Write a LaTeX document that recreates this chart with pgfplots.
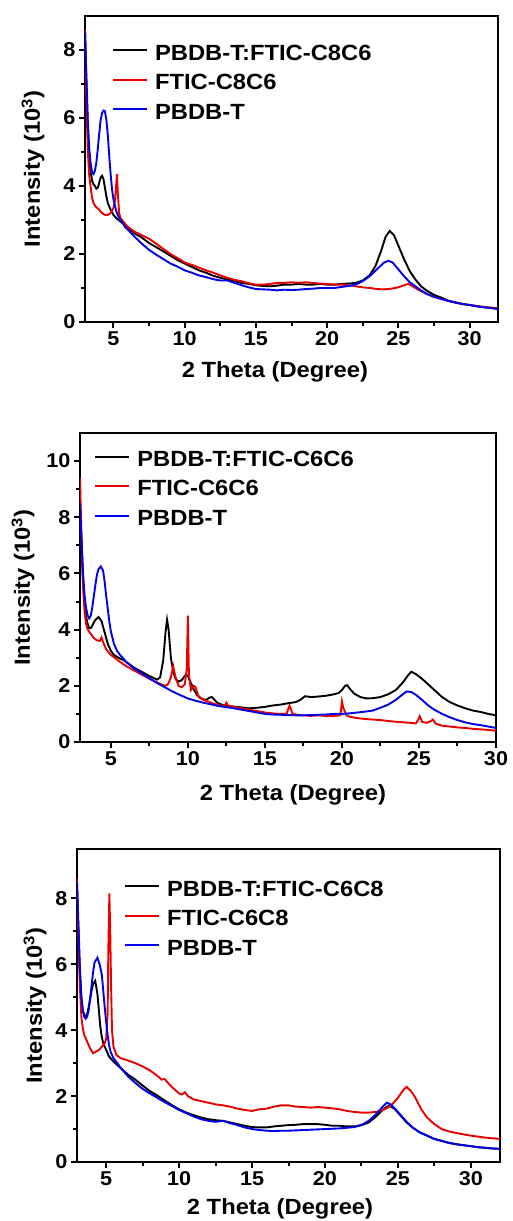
\documentclass[border=0pt]{standalone}
\usepackage{fontspec}
\setmainfont{Liberation Sans}[FakeStretch=1.08]
\usepackage{pgfplots}
\pgfplotsset{compat=1.18}
\definecolor{xred}{RGB}{235,0,0}
\definecolor{xblue}{RGB}{0,0,235}
\pgfplotsset{
  xrdstyle/.style={
    scale only axis,
    axis line style={line width=2.4pt},
    every tick/.style={line width=2pt,black},
    tick align=outside,
    xtick pos=bottom, ytick pos=left,
    major tick length=6pt, minor tick length=4pt,
    minor x tick num=1, minor y tick num=1,
    xtick={5,10,15,20,25,30},
    /pgf/number format/assume math mode=true,
    tick label style={font=\fontsize{20}{24}\selectfont\bfseries},
    label style={font=\fontsize{22}{26}\selectfont\bfseries},
    xlabel={2 Theta (Degree)},
    ylabel={Intensity (10\textsuperscript{3})},
    legend style={draw=none, fill=none, inner sep=0pt, row sep=0pt,
      font=\fontsize{22}{26}\selectfont\bfseries,
      nodes={inner sep=0pt, text height=21pt, text depth=8.5pt},
      /tikz/every odd column/.append style={column sep=7pt}},
    legend cell align=left,
    legend image code/.code={\draw[#1,line width=2pt] (0pt,3.5pt) -- (34pt,3.5pt);},
    blk/.style={black, line width=1.9pt},
    rd/.style={xred, line width=1.9pt},
    bl/.style={xblue, line width=1.9pt},
  }
}
\begin{document}
\begin{tikzpicture}[x=1pt,y=1pt]
\path[use as bounding box] (0,0) rectangle (512,-1221);
% ---------------- Panel 1 ----------------
\begin{axis}[xrdstyle,
  at={(85pt,-16pt)}, anchor=north west,
  width=413pt, height=306pt,
  xmin=3, xmax=32, ymin=0, ymax=9,
  ytick={0,2,4,6,8},
  xlabel style={at={(axis description cs:0.46,-0.18)}, anchor=base},
  ylabel style={at={(axis description cs:-0.126,0.5)}, anchor=center},
  legend style={at={(axis description cs:0.065,0.925)}, anchor=north west},
]
\addplot[blk] coordinates {
(3.0,8.6)(3.1,7.0)(3.2,5.6)(3.3,4.8)(3.4,4.4)(3.5,4.15)(3.6,4.05)(3.7,4.0)(3.8,3.92)(3.9,3.95)(4.0,4.1)(4.1,4.25)(4.2,4.3)(4.3,4.2)(4.4,3.95)(4.5,3.7)(4.6,3.5)(4.8,3.3)(5.0,3.15)(5.2,3.05)(5.5,2.95)(5.8,2.85)(6.0,2.78)(6.5,2.6)(7.0,2.48)(7.5,2.32)(8.0,2.2)(8.5,2.08)(9.0,1.95)(9.5,1.82)(10.0,1.72)(10.5,1.62)(11.0,1.52)(11.5,1.45)(12.0,1.36)(12.5,1.3)(13.0,1.25)(13.5,1.2)(14.0,1.15)(14.5,1.12)(15.0,1.08)(15.5,1.06)(16.0,1.05)(16.5,1.07)(17.0,1.1)(17.5,1.1)(18.0,1.12)(18.5,1.1)(19.0,1.1)(19.5,1.12)(20.0,1.1)(20.5,1.1)(21.0,1.12)(21.5,1.13)(22.0,1.15)(22.5,1.22)(23.0,1.38)(23.4,1.65)(23.8,2.1)(24.1,2.5)(24.4,2.68)(24.7,2.55)(25.0,2.25)(25.4,1.85)(25.8,1.5)(26.2,1.25)(26.6,1.05)(27.0,0.92)(27.5,0.8)(28.0,0.72)(28.5,0.63)(29.0,0.58)(29.5,0.53)(30.0,0.5)(30.5,0.47)(31.0,0.44)(31.5,0.42)(32.0,0.4)
};
\addlegendentry{PBDB-T:FTIC-C8C6}
\addplot[rd] coordinates {
(3.0,8.6)(3.1,6.5)(3.2,5.0)(3.3,4.3)(3.4,3.95)(3.5,3.65)(3.6,3.5)(3.7,3.42)(3.8,3.38)(4.0,3.3)(4.2,3.2)(4.4,3.15)(4.6,3.15)(4.8,3.2)(5.0,3.35)(5.1,3.55)(5.2,4.1)(5.25,4.35)(5.3,3.8)(5.4,3.2)(5.5,3.05)(5.7,2.95)(6.0,2.8)(6.5,2.65)(7.0,2.55)(7.5,2.45)(8.0,2.3)(8.5,2.15)(9.0,2.0)(9.5,1.88)(10.0,1.75)(10.5,1.68)(11.0,1.6)(11.5,1.52)(12.0,1.45)(12.5,1.37)(13.0,1.3)(13.5,1.24)(14.0,1.2)(14.5,1.14)(15.0,1.1)(15.5,1.1)(16.0,1.12)(16.5,1.15)(17.0,1.15)(17.5,1.17)(18.0,1.15)(18.5,1.17)(19.0,1.15)(19.5,1.13)(20.0,1.12)(20.5,1.1)(21.0,1.1)(21.5,1.08)(22.0,1.05)(22.5,1.02)(23.0,1.0)(23.5,0.97)(24.0,0.96)(24.5,0.98)(25.0,1.02)(25.4,1.08)(25.7,1.12)(26.0,1.05)(26.4,0.95)(27.0,0.82)(27.5,0.74)(28.0,0.68)(28.5,0.62)(29.0,0.57)(29.5,0.53)(30.0,0.5)(30.5,0.47)(31.0,0.44)(31.5,0.42)(32.0,0.4)
};
\addlegendentry{FTIC-C8C6}
\addplot[bl] coordinates {
(3.0,8.5)(3.1,7.2)(3.2,5.9)(3.3,5.1)(3.4,4.65)(3.5,4.4)(3.6,4.35)(3.7,4.45)(3.8,4.7)(3.9,5.1)(4.0,5.55)(4.1,5.95)(4.2,6.15)(4.3,6.22)(4.4,6.2)(4.5,5.95)(4.6,5.5)(4.7,4.9)(4.8,4.35)(4.9,3.9)(5.0,3.6)(5.2,3.25)(5.4,3.05)(5.6,2.95)(5.8,2.8)(6.0,2.72)(6.5,2.5)(7.0,2.3)(7.5,2.12)(8.0,1.98)(8.5,1.85)(9.0,1.72)(9.5,1.63)(10.0,1.52)(10.5,1.45)(11.0,1.37)(11.5,1.32)(12.0,1.26)(12.5,1.22)(13.0,1.22)(13.5,1.15)(14.0,1.08)(14.5,1.02)(15.0,0.97)(15.5,0.96)(16.0,0.95)(16.5,0.93)(17.0,0.95)(17.5,0.94)(18.0,0.95)(18.5,0.97)(19.0,0.98)(19.5,1.0)(20.0,1.0)(20.5,1.0)(21.0,1.03)(21.5,1.06)(22.0,1.1)(22.5,1.2)(23.0,1.35)(23.5,1.55)(24.0,1.75)(24.3,1.8)(24.6,1.75)(25.0,1.55)(25.4,1.35)(25.8,1.17)(26.2,1.05)(26.6,0.93)(27.0,0.83)(27.5,0.74)(28.0,0.68)(28.5,0.62)(29.0,0.57)(29.5,0.53)(30.0,0.5)(30.5,0.46)(31.0,0.43)(31.5,0.41)(32.0,0.38)
};
\addlegendentry{PBDB-T}
\end{axis}
% ---------------- Panel 2 ----------------
\begin{axis}[xrdstyle,
  at={(80pt,-433pt)}, anchor=north west,
  width=416pt, height=309pt,
  xmin=3, xmax=30, ymin=0, ymax=11,
  ytick={0,2,4,6,8,10},
  xlabel style={at={(axis description cs:0.512,-0.188)}, anchor=base},
  ylabel style={at={(axis description cs:-0.137,0.5)}, anchor=center},
  legend style={at={(axis description cs:0.034,0.961)}, anchor=north west},
]
\addplot[blk] coordinates {
(3.0,8.5)(3.1,7.0)(3.2,5.7)(3.3,4.9)(3.4,4.45)(3.5,4.2)(3.6,4.05)(3.7,4.05)(3.8,4.15)(3.9,4.25)(4.0,4.35)(4.2,4.45)(4.4,4.3)(4.6,3.9)(4.8,3.5)(5.0,3.25)(5.2,3.1)(5.5,3.0)(5.8,2.92)(6.0,2.85)(6.5,2.65)(7.0,2.5)(7.5,2.35)(8.0,2.22)(8.2,2.3)(8.4,2.9)(8.55,3.9)(8.65,4.35)(8.75,4.0)(8.9,3.0)(9.05,2.5)(9.2,2.25)(9.4,2.15)(9.6,2.2)(9.8,2.35)(9.9,2.4)(10.0,2.35)(10.2,2.1)(10.4,1.85)(10.6,1.68)(10.8,1.58)(11.0,1.52)(11.2,1.5)(11.4,1.58)(11.55,1.6)(11.7,1.52)(11.9,1.4)(12.2,1.33)(12.5,1.3)(13.0,1.26)(13.5,1.23)(14.0,1.2)(14.5,1.22)(15.0,1.25)(15.5,1.3)(16.0,1.33)(16.5,1.38)(17.0,1.42)(17.3,1.5)(17.6,1.63)(18.0,1.6)(18.5,1.62)(19.0,1.65)(19.5,1.7)(19.8,1.75)(20.0,1.85)(20.2,2.0)(20.35,2.02)(20.5,1.9)(20.8,1.72)(21.2,1.6)(21.6,1.55)(22.0,1.56)(22.5,1.6)(23.0,1.7)(23.5,1.85)(24.0,2.15)(24.3,2.38)(24.5,2.5)(24.8,2.42)(25.2,2.25)(25.6,2.05)(26.0,1.85)(26.5,1.6)(27.0,1.42)(27.5,1.3)(28.0,1.2)(28.5,1.12)(29.0,1.07)(29.5,1.0)(30.0,0.95)
};
\addlegendentry{PBDB-T:FTIC-C6C6}
\addplot[rd] coordinates {
(3.0,9.4)(3.1,7.2)(3.2,5.5)(3.3,4.6)(3.4,4.2)(3.5,4.0)(3.7,3.85)(3.9,3.7)(4.1,3.62)(4.3,3.6)(4.4,3.72)(4.5,3.55)(4.7,3.3)(5.0,3.1)(5.3,2.98)(5.6,2.85)(6.0,2.7)(6.5,2.55)(7.0,2.4)(7.5,2.25)(8.0,2.12)(8.5,2.0)(8.7,2.05)(8.9,2.3)(9.05,2.7)(9.2,2.3)(9.4,2.0)(9.6,1.95)(9.8,2.05)(9.93,2.6)(10.0,4.5)(10.07,2.4)(10.2,1.85)(10.4,2.0)(10.5,1.95)(10.7,1.6)(11.0,1.5)(11.5,1.4)(12.0,1.3)(12.4,1.3)(12.5,1.4)(12.6,1.3)(13.0,1.25)(13.5,1.2)(14.0,1.15)(14.5,1.1)(15.0,1.05)(15.5,1.02)(16.0,1.0)(16.4,1.0)(16.6,1.3)(16.8,1.0)(17.0,0.98)(17.5,0.95)(18.0,0.93)(18.5,0.95)(19.0,0.92)(19.5,0.93)(19.9,0.95)(20.0,1.45)(20.1,1.2)(20.3,0.95)(20.5,0.9)(21.0,0.85)(21.5,0.82)(22.0,0.8)(22.5,0.78)(23.0,0.75)(23.5,0.72)(24.0,0.7)(24.5,0.68)(24.8,0.66)(24.95,0.8)(25.05,0.92)(25.2,0.72)(25.5,0.68)(25.8,0.75)(25.9,0.8)(26.1,0.65)(26.5,0.58)(27.0,0.55)(27.5,0.52)(28.0,0.5)(28.5,0.47)(29.0,0.45)(29.5,0.43)(30.0,0.4)
};
\addlegendentry{FTIC-C6C6}
\addplot[bl] coordinates {
(3.0,8.5)(3.1,7.2)(3.2,6.0)(3.3,5.2)(3.4,4.75)(3.5,4.5)(3.6,4.4)(3.7,4.5)(3.8,4.8)(3.9,5.2)(4.0,5.6)(4.1,5.95)(4.2,6.15)(4.35,6.25)(4.5,6.1)(4.6,5.7)(4.7,5.2)(4.8,4.75)(4.9,4.3)(5.0,3.95)(5.2,3.5)(5.4,3.25)(5.6,3.1)(5.8,2.98)(6.0,2.85)(6.5,2.62)(7.0,2.45)(7.5,2.27)(8.0,2.1)(8.5,1.95)(9.0,1.8)(9.5,1.67)(10.0,1.55)(10.5,1.47)(11.0,1.4)(11.5,1.34)(12.0,1.28)(12.5,1.24)(13.0,1.2)(13.5,1.15)(14.0,1.1)(14.5,1.05)(15.0,1.0)(15.5,0.98)(16.0,0.97)(16.5,0.96)(17.0,0.95)(17.5,0.95)(18.0,0.96)(18.5,0.97)(19.0,0.98)(19.5,1.0)(20.0,1.0)(20.5,1.02)(21.0,1.05)(21.5,1.08)(22.0,1.12)(22.5,1.22)(23.0,1.33)(23.5,1.5)(24.0,1.72)(24.2,1.8)(24.5,1.78)(24.8,1.68)(25.2,1.5)(25.6,1.3)(26.0,1.15)(26.5,1.0)(27.0,0.88)(27.5,0.78)(28.0,0.7)(28.5,0.64)(29.0,0.6)(29.5,0.55)(30.0,0.5)
};
\addlegendentry{PBDB-T}
\end{axis}
% ---------------- Panel 3 ----------------
\begin{axis}[xrdstyle,
  at={(77pt,-849pt)}, anchor=north west,
  width=423pt, height=313pt,
  xmin=3, xmax=32, ymin=0, ymax=9.5,
  ytick={0,2,4,6,8},
  xlabel style={at={(axis description cs:0.48,-0.167)}, anchor=base},
  ylabel style={at={(axis description cs:-0.099,0.5)}, anchor=center},
  legend style={at={(axis description cs:0.111,0.917)}, anchor=north west},
]
\addplot[blk] coordinates {
(3.0,8.3)(3.1,6.9)(3.2,5.7)(3.3,5.0)(3.4,4.6)(3.5,4.45)(3.6,4.4)(3.7,4.5)(3.8,4.7)(3.9,4.95)(4.0,5.2)(4.1,5.4)(4.25,5.5)(4.4,5.1)(4.5,4.6)(4.6,4.1)(4.7,3.8)(4.8,3.6)(5.0,3.4)(5.2,3.2)(5.5,3.05)(6.0,2.85)(6.5,2.65)(7.0,2.5)(7.5,2.32)(8.0,2.15)(8.5,2.02)(9.0,1.87)(9.5,1.73)(10.0,1.6)(10.5,1.5)(11.0,1.42)(11.5,1.35)(12.0,1.3)(12.5,1.27)(13.0,1.25)(13.5,1.2)(14.0,1.15)(14.5,1.1)(15.0,1.06)(15.5,1.05)(16.0,1.05)(16.5,1.08)(17.0,1.1)(17.5,1.12)(18.0,1.13)(18.5,1.15)(19.0,1.15)(19.5,1.15)(20.0,1.13)(20.5,1.1)(21.0,1.1)(21.5,1.08)(22.0,1.08)(22.5,1.12)(23.0,1.2)(23.5,1.38)(24.0,1.6)(24.4,1.72)(24.8,1.6)(25.2,1.4)(25.6,1.2)(26.0,1.05)(26.5,0.9)(27.0,0.8)(27.5,0.7)(28.0,0.64)(28.5,0.58)(29.0,0.54)(29.5,0.51)(30.0,0.48)(30.5,0.45)(31.0,0.43)(31.5,0.41)(32.0,0.4)
};
\addlegendentry{PBDB-T:FTIC-C6C8}
\addplot[rd] coordinates {
(3.0,8.6)(3.1,6.8)(3.2,5.3)(3.3,4.4)(3.4,4.05)(3.5,3.85)(3.7,3.65)(3.9,3.45)(4.1,3.3)(4.3,3.35)(4.5,3.4)(4.7,3.5)(4.9,3.6)(5.0,3.75)(5.1,4.5)(5.15,6.5)(5.22,8.15)(5.28,7.0)(5.33,5.5)(5.4,4.0)(5.5,3.5)(5.7,3.25)(6.0,3.15)(6.5,3.08)(7.0,3.0)(7.5,2.9)(8.0,2.78)(8.5,2.62)(8.8,2.5)(9.0,2.52)(9.2,2.42)(9.5,2.28)(10.0,2.08)(10.2,2.05)(10.4,2.12)(10.6,2.0)(11.0,1.9)(11.5,1.85)(12.0,1.8)(12.5,1.75)(13.0,1.72)(13.5,1.68)(14.0,1.62)(14.5,1.58)(15.0,1.55)(15.5,1.6)(16.0,1.62)(16.5,1.68)(17.0,1.72)(17.5,1.72)(18.0,1.68)(18.5,1.67)(19.0,1.65)(19.5,1.67)(20.0,1.65)(20.5,1.63)(21.0,1.6)(21.5,1.55)(22.0,1.52)(22.5,1.5)(23.0,1.5)(23.5,1.52)(24.0,1.58)(24.5,1.7)(25.0,1.95)(25.4,2.2)(25.6,2.28)(25.9,2.15)(26.2,1.95)(26.6,1.6)(27.0,1.35)(27.5,1.15)(28.0,1.0)(28.5,0.93)(29.0,0.88)(29.5,0.84)(30.0,0.8)(30.5,0.77)(31.0,0.74)(31.5,0.72)(32.0,0.7)
};
\addlegendentry{FTIC-C6C8}
\addplot[bl] coordinates {
(3.0,8.5)(3.1,7.2)(3.2,5.9)(3.3,5.0)(3.4,4.6)(3.5,4.4)(3.6,4.35)(3.7,4.42)(3.8,4.6)(3.9,4.95)(4.0,5.35)(4.1,5.75)(4.2,6.05)(4.4,6.2)(4.55,6.0)(4.7,5.7)(4.8,5.2)(4.9,4.7)(5.0,4.25)(5.1,3.85)(5.2,3.55)(5.3,3.35)(5.5,3.15)(5.8,2.98)(6.0,2.85)(6.5,2.6)(7.0,2.4)(7.5,2.22)(8.0,2.08)(8.5,1.95)(9.0,1.82)(9.5,1.7)(10.0,1.58)(10.5,1.48)(11.0,1.38)(11.5,1.3)(12.0,1.25)(12.5,1.22)(13.0,1.25)(13.5,1.18)(14.0,1.12)(14.5,1.05)(15.0,1.0)(15.5,0.97)(16.0,0.95)(16.5,0.94)(17.0,0.95)(17.5,0.95)(18.0,0.96)(18.5,0.97)(19.0,0.98)(19.5,0.99)(20.0,1.0)(20.5,1.01)(21.0,1.02)(21.5,1.04)(22.0,1.06)(22.5,1.12)(23.0,1.25)(23.5,1.45)(24.0,1.7)(24.25,1.8)(24.5,1.75)(24.8,1.62)(25.2,1.42)(25.6,1.22)(26.0,1.05)(26.5,0.9)(27.0,0.8)(27.5,0.7)(28.0,0.64)(28.5,0.58)(29.0,0.54)(29.5,0.51)(30.0,0.48)(30.5,0.45)(31.0,0.43)(31.5,0.41)(32.0,0.4)
};
\addlegendentry{PBDB-T}
\end{axis}
\end{tikzpicture}
\end{document}
